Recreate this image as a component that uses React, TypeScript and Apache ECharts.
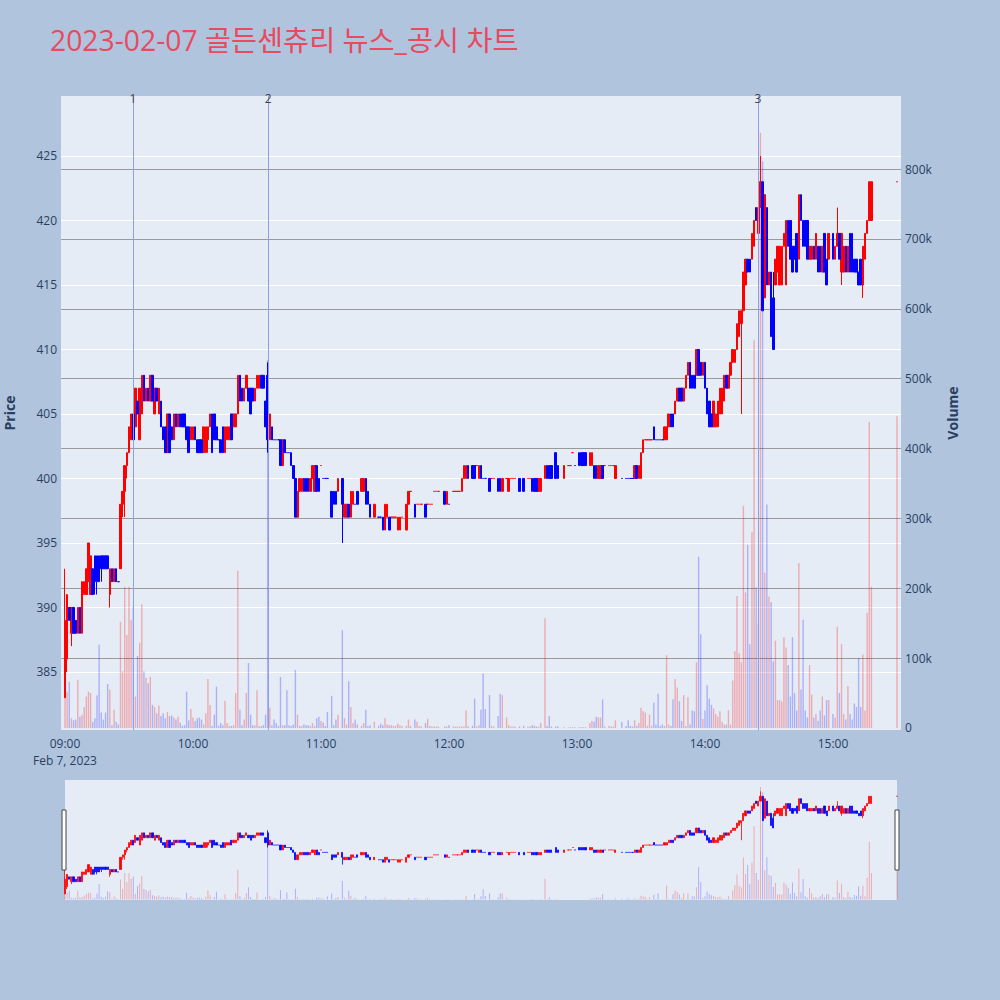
import React, { useEffect, useRef } from "react";
import * as echarts from "echarts";

// rows: [time, open, high, low, close, volume (thousand shares)]
const h09: [string, number, number, number, number, number][] = [
  ["09:00",383,393,383,389,45],["09:01",386,391,385,391,52],["09:02",390,390,389,389,66],["09:03",388,390,387,390,14],
  ["09:04",390,390,388,388,11],["09:05",389,389,388,388,12],["09:06",388,390,388,390,69],["09:07",390,390,388,388,16],
  ["09:08",388,392,388,392,19],["09:09",391,392,391,392,30],["09:10",391,393,391,393,45],["09:11",392,395,392,395,52],
  ["09:12",391,394,391,394,50],["09:13",393,393,391,391,9],["09:14",394,394,391,392,14],["09:15",394,394,391,392,47],
  ["09:16",394,394,392,392,119],["09:17",394,394,392,393,22],["09:18",394,394,393,393,12],["09:19",394,394,393,393,22],
  ["09:20",394,394,393,393,63],["09:21",391,393,390,393,55],["09:22",393,393,392,392,4],["09:23",392,393,392,393,26],
  ["09:24",393,393,392,392,9],["09:25",392,392,392,392,5],["09:26",393,398,393,398,152],["09:27",398,399,397,399,81],
  ["09:28",399,401,397,401,202],["09:29",401,402,400,402,133],["09:30",402,404,402,404,202],["09:31",403,405,403,405,155],
  ["09:32",405,405,403,403,174],["09:33",404,407,404,407,45],["09:34",406,406,405,405,103],["09:35",403,407,403,407,122],
  ["09:36",405,408,405,408,177],["09:37",408,408,406,406,81],["09:38",406,407,406,407,72],["09:39",407,407,406,406,64],
  ["09:40",406,408,406,408,73],["09:41",408,408,406,406,33],["09:42",405,407,405,407,30],["09:43",407,407,406,406,21],
  ["09:44",405,407,405,407,32],["09:45",406,406,404,404,17],["09:46",404,404,403,403,21],["09:47",404,404,402,402,14],
  ["09:48",402,405,402,405,23],["09:49",405,405,402,402,17],["09:50",404,404,403,403,18],["09:51",403,405,403,405,15],
  ["09:52",405,405,404,404,12],["09:53",404,405,404,405,16],["09:54",405,405,404,404,8],["09:55",405,405,404,404,3],
  ["09:56",405,405,404,404,4],["09:57",404,404,403,403,52],["09:58",404,404,402,402,11],["09:59",403,404,403,404,27],
];
const h10: [string, number, number, number, number, number][] = [
  ["10:00",403,404,403,404,15],["10:01",404,404,403,403,10],["10:02",403,403,402,402,14],["10:03",403,403,402,402,15],
  ["10:04",403,403,402,402,12],["10:05",402,404,402,404,5],["10:06",402,404,402,404,21],["10:07",403,404,402,404,70],
  ["10:08",404,405,404,405,33],["10:09",405,405,402,402,3],["10:10",405,405,403,403,19],["10:11",404,404,403,403,59],
  ["10:12",403,403,403,403,3],["10:13",403,403,402,402,7],["10:14",404,404,402,402,4],["10:15",402,404,402,404,39],
  ["10:16",403,404,403,404,7],["10:17",403,404,403,404,3],["10:18",405,405,403,403,3],["10:19",404,405,404,405,4],
  ["10:20",404,405,404,405,50],["10:21",405,408,405,408,225],["10:22",408,408,406,406,26],["10:23",407,407,406,406,4],
  ["10:24",406,407,406,407,12],["10:25",407,408,407,408,50],["10:26",407,407,406,406,93],["10:27",407,407,405,405,19],
  ["10:28",407,407,406,406,4],["10:29",406,407,406,407,4],["10:30",407,408,407,408,54],["10:31",407,408,407,408,3],
  ["10:32",408,408,407,407,3],["10:33",408,408,407,407,4],["10:34",406,406,404,404,19],["10:35",408,409,402,403,527],
  ["10:36",403,405,403,405,29],["10:37",404,404,403,403,4],["10:38",403,403,403,403,12],["10:39",403,403,403,403,7],
  ["10:40",403,403,403,403,3],["10:41",403,403,401,401,73],["10:42",401,403,401,403,4],["10:43",403,403,402,402,4],
  ["10:44",402,402,402,402,54],["10:45",402,402,402,402,4],["10:46",402,402,401,401,3],["10:47",401,401,400,400,5],
  ["10:48",400,400,397,397,83],["10:49",397,399,397,399,19],["10:50",399,400,399,400,3],["10:51",399,400,399,400,3],
  ["10:52",400,400,399,399,5],["10:53",400,400,399,399,4],["10:54",400,400,399,399,4],["10:55",399,400,399,400,3],
  ["10:56",400,401,400,401,7],["10:57",399,401,399,401,3],["10:58",401,401,399,399,14],["10:59",400,400,399,399,16],
];
const h11: [string, number, number, number, number, number][] = [
  ["11:00",401,401,401,401,10],["11:01",400,400,400,400,8],["11:02",400,400,400,400,3],["11:03",400,400,400,400,23],
  ["11:05",399,399,397,397,46],["11:06",399,399,398,398,4],["11:07",399,399,398,398,12],["11:08",399,400,399,400,19],
  ["11:10",400,400,395,398,140],["11:11",397,398,397,398,14],["11:12",397,398,397,398,5],["11:13",398,398,397,397,67],
  ["11:14",397,399,397,399,30],["11:15",398,399,398,399,7],["11:16",398,398,398,398,12],["11:17",399,399,398,398,5],
  ["11:19",399,400,399,400,3],["11:20",399,400,399,400,7],["11:21",400,400,398,398,26],["11:22",399,399,398,398,3],
  ["11:23",398,398,397,397,4],["11:25",397,398,397,398,9],["11:27",397,397,397,397,3],["11:28",397,397,397,397,6],
  ["11:29",397,397,396,396,4],["11:30",396,398,396,398,14],["11:31",397,398,397,398,5],["11:32",397,397,396,396,4],
  ["11:33",397,397,397,397,4],["11:34",397,397,397,397,3],["11:35",397,397,397,397,3],["11:36",396,397,396,397,6],
  ["11:37",396,397,396,397,4],["11:38",397,397,397,397,3],["11:40",396,398,396,398,3],["11:41",398,399,398,399,12],
  ["11:42",399,399,399,399,3],["11:44",398,398,397,397,12],["11:45",398,398,398,398,9],["11:46",398,398,398,398,3],
  ["11:47",398,398,398,398,2],["11:49",398,398,397,397,7],["11:50",398,398,398,398,13],["11:51",398,398,398,398,3],
  ["11:52",398,398,398,398,2],["11:53",399,399,399,399,2],["11:54",399,399,399,399,2],["11:55",399,399,399,399,2],
  ["11:58",399,399,398,398,2],["11:59",398,399,398,399,2],
];
const h12: [string, number, number, number, number, number][] = [
  ["12:00",398,398,398,398,4],["12:02",399,399,399,399,2],["12:03",399,399,399,399,2],["12:04",399,399,399,399,2],
  ["12:05",399,399,399,399,2],["12:06",399,400,399,400,2],["12:07",400,401,400,401,2],["12:08",400,401,400,401,25],
  ["12:09",401,401,400,400,2],["12:11",401,401,400,400,3],["12:12",401,401,400,400,42],["12:13",401,401,401,401,2],
  ["12:14",400,401,400,401,4],["12:15",401,401,400,400,26],["12:16",400,400,400,400,78],["12:17",400,400,400,400,27],
  ["12:19",400,400,399,399,47],["12:20",400,400,400,400,3],["12:21",400,400,400,400,2],["12:23",400,400,399,399,17],
  ["12:24",400,400,399,399,49],["12:25",399,400,399,400,47],["12:27",400,400,400,400,15],["12:28",399,400,399,400,4],
  ["12:29",400,400,400,400,2],["12:30",400,400,400,400,2],["12:31",400,400,400,400,2],["12:33",400,400,399,399,2],
  ["12:35",400,400,399,399,3],["12:37",400,400,400,400,2],["12:38",400,400,400,400,2],["12:39",400,400,399,399,4],
  ["12:40",400,400,399,399,3],["12:41",400,400,399,399,2],["12:42",399,400,399,400,2],["12:43",399,400,399,400,7],
  ["12:45",400,401,400,401,157],["12:46",401,401,400,400,3],["12:47",401,401,400,400,17],["12:48",401,401,400,400,2],
  ["12:50",402,402,400,400,2],["12:51",401,401,400,400,2],["12:54",400,401,400,401,1],["12:56",401,401,401,401,1],
  ["12:57",401,401,401,401,1],["12:58",402,402,402,402,1],["12:59",401,401,401,401,1],
];
const h13: [string, number, number, number, number, number][] = [
  ["13:01",402,402,401,401,1],["13:02",402,402,401,401,1],["13:03",402,402,401,401,1],["13:04",402,402,401,401,1],
  ["13:06",401,402,401,402,7],["13:07",401,402,401,402,10],["13:08",401,401,400,400,9],["13:09",401,401,400,400,16],
  ["13:10",400,401,400,401,15],["13:11",400,401,400,401,15],["13:12",401,401,400,400,41],["13:13",401,401,401,401,2],
  ["13:15",401,401,401,401,3],["13:16",401,401,401,401,2],["13:17",401,401,401,401,2],["13:18",400,401,400,401,11],
  ["13:21",400,400,400,400,9],["13:23",400,400,400,400,3],["13:24",400,400,400,400,11],["13:25",400,400,400,400,3],
  ["13:26",400,400,400,400,2],["13:27",400,401,400,401,11],["13:28",401,401,400,400,3],["13:29",400,401,400,401,7],
  ["13:30",400,402,400,402,29],["13:31",402,403,402,403,24],["13:32",403,403,403,403,22],["13:33",403,403,403,403,3],
  ["13:34",403,403,403,403,19],["13:35",403,403,403,403,3],["13:36",404,404,403,403,36],["13:37",403,403,403,403,5],
  ["13:38",403,403,403,403,49],["13:39",403,403,403,403,3],["13:40",403,403,403,403,5],["13:41",403,404,403,404,3],
  ["13:42",403,404,403,404,104],["13:43",404,405,404,405,5],["13:44",405,405,404,404,3],["13:45",405,405,404,404,41],
  ["13:46",405,406,405,406,70],["13:47",406,407,406,407,58],["13:48",407,407,406,406,38],["13:49",407,407,406,406,10],
  ["13:50",406,407,406,407,47],["13:51",407,408,407,408,3],["13:52",408,409,408,409,44],["13:53",409,409,407,407,5],
  ["13:54",408,408,407,407,25],["13:55",408,408,407,407,24],["13:56",408,410,408,410,94],["13:57",410,410,408,408,245],
  ["13:58",409,409,408,408,134],["13:59",408,409,408,409,13],
];
const h14: [string, number, number, number, number, number][] = [
  ["14:00",409,409,407,407,25],["14:01",407,407,405,405,61],["14:02",406,406,404,404,42],["14:03",405,405,404,404,33],
  ["14:04",404,406,404,406,28],["14:05",404,405,404,405,20],["14:06",404,406,404,406,16],["14:07",405,407,405,407,24],
  ["14:08",405,407,405,407,9],["14:09",406,408,406,408,5],["14:10",408,408,407,407,5],["14:11",407,408,407,408,25],
  ["14:12",408,409,408,409,5],["14:13",409,410,409,410,68],["14:14",409,410,409,410,110],["14:15",410,412,410,412,189],
  ["14:16",411,413,411,413,107],["14:17",412,413,405,413,94],["14:18",413,416,413,416,318],["14:19",415,417,415,417,194],
  ["14:20",417,417,416,416,262],["14:21",417,417,416,416,120],["14:22",417,419,417,419,280],["14:23",418,420,418,420,555],
  ["14:24",421,421,420,420,201],["14:25",419,421,419,421,150],["14:26",421,425,421,423,852],["14:27",423,423,413,413,811],
  ["14:28",414,422,414,422,222],["14:29",421,421,415,415,320],["14:30",415,416,415,416,188],["14:31",416,416,411,411,180],
  ["14:32",414,416,410,410,95],["14:33",415,417,415,417,125],["14:34",416,418,416,418,40],["14:35",415,418,415,418,40],
  ["14:36",415,418,415,418,38],["14:37",418,419,418,419,130],["14:38",415,420,415,420,115],["14:39",420,420,418,418,90],
  ["14:40",420,420,417,417,45],["14:41",418,418,416,416,130],["14:42",418,418,417,417,50],["14:43",419,419,416,416,25],
  ["14:44",417,422,417,422,236],["14:45",422,422,420,420,55],["14:46",420,420,418,418,155],["14:47",420,420,418,418,25],
  ["14:48",420,420,417,417,15],["14:49",417,418,417,418,90],["14:50",417,418,417,418,48],["14:51",418,418,417,417,15],
  ["14:52",417,419,417,419,20],["14:53",418,418,416,416,10],["14:54",418,418,416,416,25],["14:55",416,418,416,418,45],
  ["14:56",419,419,416,416,18],["14:57",417,417,415,415,40],["14:58",417,419,417,419,40],
];
const h15: [string, number, number, number, number, number][] = [
  ["15:00",419,419,417,417,20],["15:01",417,418,417,418,15],["15:02",418,421,418,419,145],["15:03",419,419,417,417,50],
  ["15:04",416,419,415,419,120],["15:05",416,418,416,418,20],["15:06",418,418,416,416,12],["15:07",416,418,416,418,60],
  ["15:08",419,419,416,416,20],["15:09",419,419,416,416,12],["15:10",417,417,416,416,35],["15:11",417,417,416,416,30],
  ["15:12",416,416,415,415,100],["15:13",417,417,415,415,30],["15:14",415,418,414,418,105],["15:15",417,419,417,419,25],
  ["15:16",419,420,419,420,165],["15:17",420,423,420,423,438],["15:18",420,423,420,423,202],
];
const closingPrint: [string, number, number, number, number, number][] = [["15:30",423,423,423,423,446]];

const xTickTimes = ["09:00", "10:00", "11:00", "12:00", "13:00", "14:00", "15:00"];
const dateLabel = "Feb 7, 2023";
const volumeTicks = [0, 100000, 200000, 300000, 400000, 500000, 600000, 700000, 800000];
const eventTimes = ["09:31:54", "10:35:12", "14:24:50"];
const eventLabels = ["1", "2", "3"];
const titleText = "2023-02-07 골든센츄리 뉴스_공시 차트";

const toMin = (t: string) => {
  const [h, m, s] = t.split(":").map(Number);
  return (h - 9) * 60 + m + (s || 0) / 60;
};
const fmtMin = (v: number) => {
  const h = 9 + Math.floor(v / 60);
  const m = Math.round(v % 60);
  return `${String(h).padStart(2, "0")}:${String(m).padStart(2, "0")}`;
};

const FONT = '"Open Sans", "Noto Sans CJK KR", sans-serif';
const UP = "#FF0000";
const DOWN = "#0000FF";
const UP_VOL = "rgba(255,0,0,0.28)";
const DOWN_VOL = "rgba(0,0,255,0.25)";
const AXIS_TEXT = "#2a3f5f";

function buildSeriesData() {
  const rows = [...h09, ...h10, ...h11, ...h12, ...h13, ...h14, ...h15, ...closingPrint];
  const up: number[][] = [];
  const down: number[][] = [];
  const vol: any[] = [];
  let prevC: number | null = null;
  let prevDir = 1;
  rows.forEach(([t, o, h, l, c, v]) => {
    let dir: number;
    if (c > o) dir = 1;
    else if (c < o) dir = -1;
    else if (prevC !== null && c > prevC) dir = 1;
    else if (prevC !== null && c < prevC) dir = -1;
    else dir = prevDir;
    const x = toMin(t);
    (dir > 0 ? up : down).push([x, o, c, l, h]);
    vol.push({ value: [x, v * 1000], itemStyle: { color: dir > 0 ? UP_VOL : DOWN_VOL } });
    prevC = c;
    prevDir = dir;
  });
  return { up, down, vol };
}

export default function App() {
  const ref = useRef<HTMLDivElement>(null);
  useEffect(() => {
    if (!ref.current) return;
    const chart = echarts.init(ref.current, null, { renderer: "svg" });
    const { up, down, vol } = buildSeriesData();
    const candleStyle = (c: string) => ({
      color: c, color0: c, borderColor: c, borderColor0: c, borderWidth: 1,
    });
    const priceMin = 380.5, priceMax = 429.65;
    const volMin = -2900, volMax = 904500;
    const option: any = {
      animation: false,
      backgroundColor: "#B0C4DE",
      textStyle: { fontFamily: FONT },
      title: {
        text: titleText, left: 50, top: 26, padding: 0,
        textStyle: { color: "#E84A5F", fontSize: 28.3, fontWeight: "normal", fontFamily: FONT },
      },
      grid: [
        { left: 61, right: 99, top: 96, height: 634, show: true, backgroundColor: "#E5ECF6", borderWidth: 0, containLabel: false, outerBoundsMode: "none" },
        { left: 65, top: 780, width: 832, height: 120, show: true, backgroundColor: "#E5ECF6", borderWidth: 0, containLabel: false, outerBoundsMode: "none" },
      ],
      xAxis: [
        {
          type: "value", gridIndex: 0, min: -1.875, max: 391.875,
          axisLine: { show: false }, axisTick: { show: false }, splitLine: { show: false },
          axisLabel: {
            customValues: xTickTimes.map(toMin),
            formatter: (v: number) => (v === 0 ? `${fmtMin(v)}\n${dateLabel}` : fmtMin(v)),
            color: AXIS_TEXT, fontSize: 12, fontFamily: FONT, margin: 5, lineHeight: 17,
          },
        },
        { type: "value", gridIndex: 1, min: 0, max: 390, show: false },
      ],
      yAxis: [
        {
          type: "value", gridIndex: 0, position: "left", min: priceMin, max: priceMax, splitNumber: 10,
          name: "Price", nameLocation: "middle", nameGap: 45, nameRotate: 90,
          nameTextStyle: { color: AXIS_TEXT, fontSize: 14, fontWeight: "bold", fontFamily: FONT },
          axisLine: { show: false }, axisTick: { show: false },
          axisLabel: { color: AXIS_TEXT, fontSize: 12, fontFamily: FONT, margin: 4, showMinLabel: false, showMaxLabel: false },
          splitLine: { show: true, showMinLine: false, showMaxLine: false, lineStyle: { color: "#FFFFFF", width: 1 } },
        },
        {
          type: "value", gridIndex: 0, position: "right", min: volMin, max: volMax,
          name: "Volume", nameLocation: "middle", nameGap: 44, nameRotate: 90,
          nameTextStyle: { color: AXIS_TEXT, fontSize: 14, fontWeight: "bold", fontFamily: FONT },
          axisLine: { show: false }, axisTick: { show: false, customValues: volumeTicks },
          axisLabel: {
            customValues: volumeTicks,
            color: AXIS_TEXT, fontSize: 12, fontFamily: FONT, margin: 4,
            formatter: (v: number) => (v === 0 ? "0" : `${Math.round(v / 1000)}k`),
          },
          splitLine: { show: false },
        },
        { type: "value", gridIndex: 1, min: priceMin, max: priceMax, show: false },
        { type: "value", gridIndex: 1, min: volMin, max: volMax, show: false },
      ],
      series: [
        {
          type: "bar", name: "vol", xAxisIndex: 0, yAxisIndex: 1, data: vol, barWidth: 1.4, z: 2,
          markLine: {
            silent: true, symbol: ["none", "none"], z: 1,
            lineStyle: { color: "#9a9a9a", width: 1, type: "solid" },
            label: { show: false },
            data: volumeTicks.filter((v) => v > 0).map((v) => ({ yAxis: v })),
          },
        },
        {
          type: "candlestick", name: "up", xAxisIndex: 0, yAxisIndex: 0, data: up, barWidth: 2, z: 3,
          itemStyle: candleStyle(UP),
          markLine: {
            silent: true, symbol: ["none", "none"], z: 6,
            lineStyle: { color: "#8C9FE8", width: 1, type: "solid" },
            label: { show: true, position: "end", formatter: "{b}", color: "#444", fontSize: 12, fontFamily: FONT, distance: -8 },
            data: eventTimes.map((t, i) => ({ xAxis: toMin(t), name: eventLabels[i] })),
          },
        },
        {
          type: "candlestick", name: "down", xAxisIndex: 0, yAxisIndex: 0, data: down, barWidth: 2, z: 3,
          itemStyle: candleStyle(DOWN),
        },
        { type: "bar", name: "volMini", xAxisIndex: 1, yAxisIndex: 3, data: vol, barWidth: 1, z: 2 },
        {
          type: "candlestick", name: "upMini", xAxisIndex: 1, yAxisIndex: 2, data: up, barWidth: 1.6, z: 3,
          itemStyle: { ...candleStyle(UP), borderWidth: 0.8 },
        },
        {
          type: "candlestick", name: "downMini", xAxisIndex: 1, yAxisIndex: 2, data: down, barWidth: 1.6, z: 3,
          itemStyle: { ...candleStyle(DOWN), borderWidth: 0.8 },
        },
      ],
      graphic: [
        { type: "rect", shape: { x: 62, y: 810, width: 4, height: 60 }, style: { fill: "#FFFFFF", stroke: "#444", lineWidth: 1 }, z: 10 },
        { type: "rect", shape: { x: 895, y: 810, width: 4, height: 60 }, style: { fill: "#FFFFFF", stroke: "#444", lineWidth: 1 }, z: 10 },
      ],
    };
    chart.setOption(option);
    return () => chart.dispose();
  }, []);
  return <div ref={ref} style={{ position: "absolute", left: 0, top: 0, width: 1000, height: 1000 }} />;
}
